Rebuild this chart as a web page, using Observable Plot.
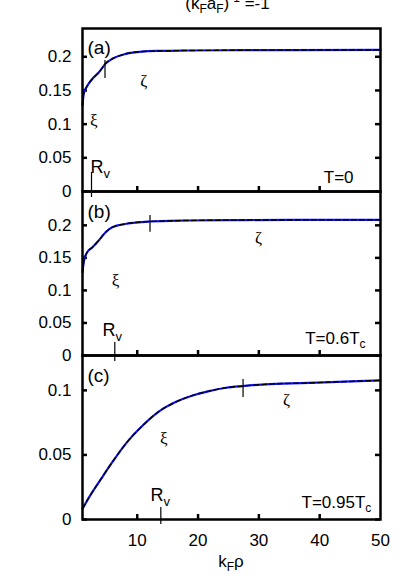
<!DOCTYPE html>
<html>
<head>
<meta charset="utf-8">
<script src="https://cdn.jsdelivr.net/npm/d3@7"></script>
<script src="https://cdn.jsdelivr.net/npm/@observablehq/plot@0.6"></script>
<style>
  body { margin: 0; background: white; }
  #wrap { position: relative; width: 409px; height: 584px; overflow: hidden; font-family: "Liberation Sans", Arial, sans-serif; }
  #wrap svg { position: absolute; left: 0; top: 0; }
  .title { position: absolute; left: 0; width: 409px; top: -12px; text-align: center; font-size: 17px; line-height: 20px; padding-left: 46px; box-sizing: border-box; }
  .xlabel { position: absolute; left: 0; width: 409px; top: 552px; text-align: center; font-size: 17px; padding-left: 53px; box-sizing: border-box; }
  sub { font-size: 12px; vertical-align: -4px; }
  sup { font-size: 12px; vertical-align: 7px; }
</style>
</head>
<body>
<div id="wrap">
  <div class="title">(k<sub>F</sub>a<sub>F</sub>)<sup>-1</sup> =-1</div>
  <div class="xlabel">k<sub>F</sub>ρ</div>
</div>
<script>
// ---- data ----
const rhoA = [1, 1.2, 1.8, 2.6, 3.7, 4.8, 5.9, 8.1, 10.8, 14, 18, 25, 35, 50];
const gapA = [0.128, 0.145, 0.157, 0.167, 0.177, 0.19, 0.197, 0.2044, 0.2078, 0.2088, 0.2093, 0.2097, 0.21, 0.2102];

const rhoB = [1, 1.25, 1.8, 2.6, 3.7, 4.8, 5.9, 8.2, 12, 18, 25, 35, 50];
const gapB = [0.128, 0.146, 0.159, 0.166, 0.177, 0.1895, 0.197, 0.2024, 0.2059, 0.2074, 0.208, 0.2083, 0.2085];

const rhoC = [1, 2.1, 4.05, 5.9, 8.1, 10.9, 13.6, 16.3, 19.1, 21.8, 24.6, 27.3, 32.8, 36.9, 43, 50];
const gapC = [0.0083, 0.0173, 0.0314, 0.0444, 0.0586, 0.0728, 0.0837, 0.0909, 0.096, 0.0994, 0.102, 0.1033, 0.1051, 0.1056, 0.1066, 0.1077];

const xTicks = [10, 20, 30, 40, 50];
const yTicksAB = [0, 0.05, 0.1, 0.15, 0.2];
const yTicksC = [0, 0.05, 0.1];

const panelLabels = ["(a)", "(b)", "(c)"];
const tempLabels = ["T=0", "T=0.6T", "T=0.95T"];
const tempSubs = ["", "c", "c"];
const rvMarks = [2.48, 6.31, 13.88];     // R_v positions
const xiZetaMarks = [4.7, 12.1, 27.4];   // crossover tick on curve

const panels = [
  { rho: rhoA, gap: gapA, ymax: 0.242, yTicks: yTicksAB, top: 28, bottom: 191,
    lab: [1.82, 0.2138], xi: [2.86, 0.1054], zeta: [11.08, 0.1648], rv: [2.32, 0.0356],
    temp: [45.57, 0.0208], rvTick: [0.0282, -0.0089], curveTick: [0.1945, 0.1677] },
  { rho: rhoB, gap: gapB, ymax: 0.252, yTicks: yTicksAB, top: 191, bottom: 355,
    lab: [1.82, 0.2202], xi: [6.43, 0.1152], zeta: [29.95, 0.1813], rv: [4.29, 0.0384],
    temp: [46.56, 0.0261], rvTick: [0.02, -0.0092], curveTick: [0.2151, 0.1895] },
  { rho: rhoC, gap: gapC, ymax: 0.127, yTicks: yTicksC, top: 355, bottom: 519,
    lab: [1.82, 0.1115], xi: [14.37, 0.0625], zeta: [34.55, 0.093], rv: [12.18, 0.0186],
    temp: [47.5, 0.0134], rvTick: [0.0093, -0.0039], curveTick: [0.1084, 0.0945] }
];

const W = 409, H = 584;
const wrap = document.getElementById("wrap");

panels.forEach((p, i) => {
  const data = p.rho.map((r, k) => ({ r, g: p.gap[k] }));
  const tickLenX = 5 / 6.08;               // ~5px in x units
  const tickLenY = p.ymax * 5 / (p.bottom - p.top);
  const isLast = i === panels.length - 1;
  const marks = [
    Plot.axisY(p.yTicks, { tickSize: 0, tickPadding: 11, fontSize: 17, tickFormat: d => String(d), label: null }),
    isLast ? Plot.axisX(xTicks, { tickSize: 0, tickPadding: 14, fontSize: 17, label: null }) : null,
    // inward ticks
    Plot.ruleY(p.yTicks, { y: d => d, x1: 1, x2: 1 + tickLenX, stroke: "black", strokeWidth: 2.5 }),
    Plot.ruleY(p.yTicks, { y: d => d, x1: 50 - tickLenX, x2: 50, stroke: "black", strokeWidth: 2.5 }),
    Plot.ruleX(xTicks.slice(0, 4), { x: d => d, y1: 0, y2: tickLenY, stroke: "black", strokeWidth: 2.5 }),
    // curves
    Plot.line(data, { x: "r", y: "g", stroke: "#1414ff", strokeWidth: 2.2, curve: "monotone-x" }),
    Plot.line(data, { x: "r", y: "g", stroke: "black", strokeWidth: 1.4, strokeDasharray: "5,3", curve: "monotone-x" }),
    // R_v marker and crossover tick
    Plot.ruleX([rvMarks[i]], { x: d => d, y1: p.rvTick[0], y2: p.rvTick[1], stroke: "black", strokeWidth: 1.2, clip: false }),
    Plot.ruleX([xiZetaMarks[i]], { x: d => d, y1: p.curveTick[0], y2: p.curveTick[1], stroke: "black", strokeWidth: 1.2 }),
    // labels
    Plot.text([panelLabels[i]], { x: p.lab[0], y: p.lab[1], text: d => d, textAnchor: "start", fontSize: 19, fill: "black" }),
    Plot.text(["ξ"], { x: p.xi[0], y: p.xi[1], text: d => d, fontSize: 17, fontFamily: "Liberation Serif", fill: "black" }),
    Plot.text(["ζ"], { x: p.zeta[0], y: p.zeta[1], text: d => d, fontSize: 17, fontFamily: "Liberation Serif", fill: "black" }),
    Plot.text(["R"], { x: p.rv[0], y: p.rv[1], text: d => d, textAnchor: "start", fontSize: 18, fill: "black" }),
    Plot.text(["v"], { x: p.rv[0], y: p.rv[1], text: d => d, textAnchor: "start", dx: 13, dy: 6, fontSize: 13, fill: "black" }),
    Plot.text([tempLabels[i]], { x: p.temp[0], y: p.temp[1], text: d => d, textAnchor: "end", fontSize: 17, fill: "black" }),
    Plot.text([tempSubs[i]], { x: p.temp[0], y: p.temp[1], text: d => d, textAnchor: "start", dx: 0, dy: 6, fontSize: 12, fill: "black" }),
    Plot.frame({ stroke: "black", strokeWidth: 2.5 })
  ].filter(Boolean);

  const svg = Plot.plot({
    width: W, height: H,
    marginLeft: 82, marginRight: 29,
    marginTop: p.top, marginBottom: H - p.bottom,
    x: { domain: [1, 50], label: null, axis: isLast ? undefined : null },
    y: { domain: [0, p.ymax], label: null },
    style: { fontFamily: "Liberation Sans, Arial, sans-serif", background: "transparent", overflow: "visible", color: "black" },
    marks
  });
  wrap.appendChild(svg);
});
</script>
</body>
</html>
